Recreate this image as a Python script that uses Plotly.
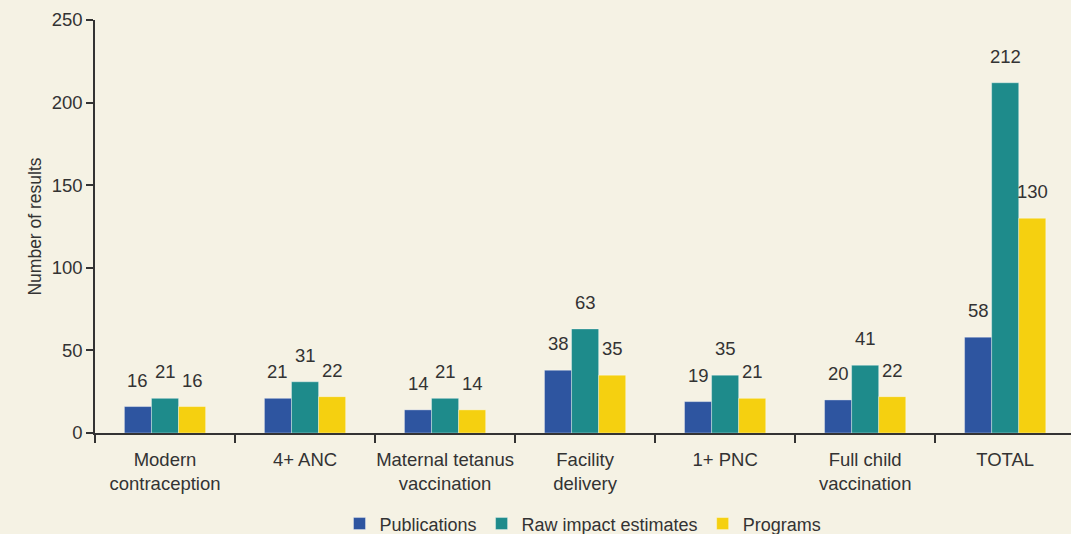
import plotly.graph_objects as go

categories = ["Modern<br>contraception", "4+ ANC", "Maternal tetanus<br>vaccination",
              "Facility<br>delivery", "1+ PNC", "Full child<br>vaccination", "TOTAL"]
publications = [16, 21, 14, 38, 19, 20, 58]
raw_impact = [21, 31, 21, 63, 35, 41, 212]
programs = [16, 22, 14, 35, 21, 22, 130]
y_ticks = [0, 50, 100, 150, 200, 250]

series = [
    ("Publications", publications, "#2E55A0"),
    ("Raw impact estimates", raw_impact, "#1E8B8B"),
    ("Programs", programs, "#F5D010"),
]

BARGAP = 0.42
n_series = len(series)
bar_w = (1 - BARGAP) / n_series

fig = go.Figure()
annotations = []
for k, (name, vals, col) in enumerate(series):
    fig.add_trace(go.Bar(
        x=list(range(len(categories))), y=vals, name=name,
        marker=dict(color=col, line=dict(width=1, color="rgba(255,255,255,0.35)")),
    ))
    offset = (k - (n_series - 1) / 2) * bar_w
    for i, v in enumerate(vals):
        annotations.append(dict(
            x=i + offset, y=v, xref="x", yref="y", text=str(v),
            showarrow=False, yanchor="bottom", yshift=14,
            font=dict(size=18.5, color="#333333"),
        ))

bg = "#F5F2E4"
fig.update_layout(
    barmode="group", bargap=BARGAP, bargroupgap=0,
    width=1071, height=534,
    paper_bgcolor=bg, plot_bgcolor=bg,
    margin=dict(l=95, r=0, t=20, b=101, autoexpand=False),
    font=dict(family="Liberation Sans, Arial, sans-serif", size=18, color="#333333"),
    legend=dict(orientation="h", x=0.5, xanchor="center", y=-0.22, yanchor="middle",
                font=dict(size=18), itemwidth=30, traceorder="normal"),
    annotations=annotations,
)
fig.update_xaxes(
    range=[-0.5, 6.47], tickvals=list(range(len(categories))), ticktext=categories,
    showline=True, linecolor="#333333", linewidth=1.5,
    ticks="", showgrid=False, fixedrange=True, tickfont=dict(size=18.5),
    ticklabelstandoff=9, automargin=False,
)
# boundary tick marks between categories
fig.update_xaxes(minor=dict(tickvals=[i - 0.5 for i in range(len(categories))],
                            ticks="outside", ticklen=8, tickcolor="#333333", tickwidth=1.5,
                            showgrid=False))
fig.update_yaxes(
    range=[0, 250], tickvals=y_ticks, showline=True, linecolor="#333333", linewidth=1.5,
    ticks="outside", ticklen=7, tickcolor="#333333", tickwidth=1.5, showgrid=False, zeroline=False,
    tickfont=dict(size=18.5), automargin=False, fixedrange=True,
    title=dict(text="Number of results", font=dict(size=17.5), standoff=6),
)
fig.write_html("out.html", config={"displayModeBar": False},
               post_script="document.body.style.margin='0';document.body.style.overflow='hidden';")
